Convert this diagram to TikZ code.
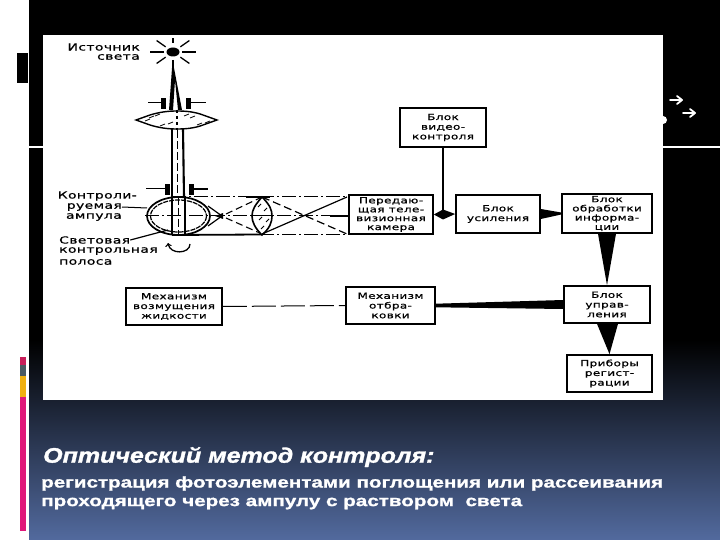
\documentclass[tikz,border=0pt]{standalone}
\usepackage{fontspec}
\usetikzlibrary{calc}
\newfontfamily\labfont[FakeStretch=1.42,LetterSpace=4,FakeBold=0.7]{DejaVu Sans}
\newfontfamily\capfont[FakeStretch=1.33,FakeBold=1.2]{Liberation Sans}
\newfontfamily\titlefont[FakeStretch=1.19,FakeBold=1.5]{Liberation Sans}
\definecolor{slateb}{HTML}{526A9E}
\definecolor{barpink}{HTML}{E0187A}
\definecolor{barred}{HTML}{C81E5A}
\definecolor{bargrey}{HTML}{4A5A62}
\definecolor{baryel}{HTML}{F0B010}
\tikzset{
 blockbox/.style={draw=black,line width=1.7pt,fill=white,inner sep=0pt,align=center,font=\labfont\fontsize{8.5}{9.7}\selectfont},
 lbl/.style={inner sep=0pt,font=\labfont\fontsize{9.8}{10.3}\selectfont,text=black},
 wedge/.style={fill=black,draw=none},
 beam/.style={line width=1.6pt,black},
 axisdash/.style={line width=1pt,dash pattern=on 14pt off 3pt on 2pt off 3pt},
 stopbar/.style={fill=black,draw=none},
 capt/.style={inner sep=0pt,anchor=west,text=white},
 chev/.style={white,line width=1.8pt,line cap=round,line join=round}
}
\begin{document}
\begin{tikzpicture}[x=1pt,y=-1pt]
\useasboundingbox (0,0) rectangle (720,540);
% slide background
\fill[white] (0,0) rectangle (29,540);
\fill[black] (29,0) rectangle (720,341);
\shade[top color=black,bottom color=slateb,shading angle=0] (29,340) rectangle (720,540);
\fill[black] (17,53) rectangle (28,83);
\fill[barred] (20,357) rectangle (26,365);
\fill[bargrey] (20,365) rectangle (26,376);
\fill[baryel] (20,376) rectangle (26,397);
\fill[barpink] (20,397) rectangle (26,531);
\fill[white] (29,146) rectangle (720,148);
\fill[white] (663,120) circle (4);
\draw[chev] (670,100) -- (682,100) (677,96) -- (682,100) -- (677,104);
\draw[chev] (683,113) -- (695,113) (690,109) -- (695,113) -- (690,117);
% picture
\fill[white] (43,35) rectangle (663,400);
% light source
\fill[black] (173,52) ellipse (6.5 and 4.5);
\foreach \a/\r in {0/23,180/23,90/14,270/14,35/20,145/20,215/20,325/20}
  \draw[line width=1.3pt] ($(173,52)+(\a:9)$) -- ($(173,52)+(\a:\r)$);
\fill[black] (172,68) -- (174,68) -- (182,110) -- (178,110) -- (175,80) -- (173,110) -- (169,110) -- cycle;
\draw[line width=1.3pt] (173,60) -- (173,72);
% first stops
\fill[stopbar] (161,98) rectangle (166,109);
\fill[stopbar] (186,98) rectangle (191,109);
\draw[line width=1pt] (148,103) -- (161,103);
\draw[line width=1pt] (191,103) -- (206,103);
% condenser lens
\draw[line width=1.4pt,fill=white] (136,120) -- (150,115) .. controls (160,112) and (168,111) .. (177,111) .. controls (187,111) and (195,112) .. (203,115) -- (217,120) -- (203,125) .. controls (195,128) and (187,129) .. (177,129) .. controls (168,129) and (160,128) .. (150,125) -- cycle;
\foreach \x/\y in {145/121,149/118,155/116,160/126,168/124,184/116,190/118,197/125,205/123}
  \draw[line width=.8pt] (\x,\y) -- ++(5,-2);
\draw[line width=1.1pt,dashed] (177,110) -- (177,130);
% beam to ampoule
\draw[beam,line width=1.7pt] (172,129) -- (172,197);
\draw[beam,line width=2.1pt] (183,129) -- (184,197);
\draw[line width=.9pt,dash pattern=on 8pt off 3pt] (177,130) -- (177,197);
% second stops
\fill[stopbar] (165,184) rectangle (169.5,195);
\fill[stopbar] (189,184) rectangle (193.5,195);
\draw[line width=1pt] (146,189) -- (165,189);
\draw[line width=1.5pt] (193,189) -- (208,189);
% ampoule
\draw[line width=1.7pt] (178.5,216) ellipse (31.5 and 19);
\draw[line width=1.2pt,dash pattern=on 5pt off 1pt] (178.5,216) ellipse (28 and 16);
\draw[line width=1.7pt] (172,197) -- (172,235);
\draw[line width=1.7pt] (185,197) -- (185,235);
\draw[line width=.9pt,dash pattern=on 8pt off 3pt] (178,197) -- (178,235);
% curved arrow
\draw[line width=1.3pt,-{>[scale=.8]}] (190,244) .. controls (190,254) and (170,255) .. (168,243);
% optical axes
\coordinate (camL) at (349,216);
\draw[axisdash] (172,197) -- (349,197);
\draw[axisdash] (145,216) -- (camL);
\draw[axisdash] (172,234) -- (349,234);
\draw[line width=1.8pt] (172,235) -- (262,234.5);
\draw[line width=2pt] (246,197) -- (270,197);
% cone
\draw[line width=1.2pt] (208,206) -- (222,216) -- (208,226);
\fill[black] (215,216) -- (223,213) -- (223,219) -- cycle;
\draw[line width=1.1pt,dash pattern=on 7pt off 4pt] (226,214) -- (262,197);
\draw[line width=1.1pt,dash pattern=on 7pt off 4pt] (226,218) -- (262,234);
% objective lens
\draw[line width=1.6pt,fill=white] (262,197) .. controls (270,205) and (272,210) .. (272,216) .. controls (272,222) and (270,228) .. (262,235) .. controls (255,228) and (252,222) .. (252,216) .. controls (252,210) and (255,205) .. (262,197) -- cycle;
\foreach \x/\y in {258/207,264/211,259/220,266/222,261/229}
  \draw[line width=.8pt] (\x,\y) -- ++(3,-3);
\draw[line width=1pt] (252,216) -- (272,216);
% crossing rays
\draw[line width=1.2pt] (262,234) -- (347,197);
\draw[line width=1.2pt,dash pattern=on 8pt off 4pt] (262,197) -- (347,234);
\draw[line width=2pt] (330,216) -- (349,216);
% blocks
\node[blockbox,minimum width=86pt,minimum height=39pt] (video) at (443,127.5) {Блок\\видео-\\контроля};
\node[blockbox,minimum width=84pt,minimum height=39pt,font=\labfont\fontsize{8.5}{8.9}\selectfont] (camera) at (391,214.5) {Передаю-\\щая теле-\\визионная\\камера};
\node[blockbox,minimum width=84pt,minimum height=38pt] (amp) at (498,214) {Блок\\усиления};
\node[blockbox,minimum width=90pt,minimum height=39pt,font=\labfont\fontsize{8.5}{9.2}\selectfont] (proc) at (607,213.5) {Блок\\обработки\\информа-\\ции};
\node[blockbox,minimum width=96pt,minimum height=37pt] (stir) at (174,306.5) {Механизм\\возмущения\\жидкости};
\node[blockbox,minimum width=89pt,minimum height=37pt] (reject) at (390.5,305.5) {Механизм\\отбра-\\ковки};
\node[blockbox,minimum width=86pt,minimum height=37pt] (ctrl) at (607,304.5) {Блок\\управ-\\ления};
\node[blockbox,minimum width=85pt,minimum height=37pt] (reg) at (609.5,373.5) {Приборы\\регист-\\рации};
% connectors
\draw[line width=1.9pt] (video.south) -- (video.south |- camera.east);
\fill[wedge] (camera.east) -- ($(video.south |- camera.east)+(0,-5)$) -- (amp.west) -- ($(video.south |- camera.east)+(0,5)$) -- cycle;
\fill[wedge] ($(amp.east)+(0,-5)$) -- ($(proc.west)+(0,-1)$) -- ($(proc.west)+(0,1)$) -- ($(amp.east)+(0,5)$) -- cycle;
\fill[wedge] ($(proc.south)+(-9,0)$) -- ($(proc.south)+(9,0)$) -- (ctrl.north) -- cycle;
\fill[wedge] ($(ctrl.south)+(-10,0)$) -- ($(ctrl.south)+(11,0)$) -- (reg.north) -- cycle;
\fill[wedge] ($(ctrl.west)+(0,-4.5)$) -- ($(ctrl.west)+(0,4.5)$) -- ($(reject.east)+(0,1.8)$) -- ($(reject.east)+(0,-1.8)$) -- cycle;
\draw[line width=1pt,dash pattern=on 24pt off 5pt] (stir.east) -- (reject.west);
% labels
\node[lbl,anchor=east] (src1) at (140,47) {Источник};
\node[lbl,anchor=east] (src2) at (140,57) {света};
\node[lbl,anchor=east] (amp1) at (137,196) {Контроли-};
\node[lbl,anchor=east] (amp2) at (122,207) {руемая};
\node[lbl,anchor=east] (amp3) at (122,217) {ампула};
\node[lbl,anchor=west] (bar1) at (59,240) {Световая};
\node[lbl,anchor=west] (bar2) at (59,251) {контрольная};
\node[lbl,anchor=west] (bar3) at (59,262) {полоса};
\coordinate (ampEdge) at (147,208);
\coordinate (barEnd) at (168,230);
\draw[line width=1pt] (amp2.east) -- (ampEdge);
\draw[line width=1.2pt] (bar1.east) -- (barEnd);
% caption
\node[capt,font=\titlefont\bfseries\itshape\fontsize{21}{24}\selectfont] (title) at (43,457) {Оптический метод контроля:};
\node[capt,font=\capfont\bfseries\fontsize{15.5}{18}\selectfont] (line1) at (41,483.5) {регистрация фотоэлементами поглощения или рассеивания};
\node[capt,font=\capfont\bfseries\fontsize{15.5}{18}\selectfont] (line2) at (41,503.5) {проходящего через ампулу с раствором\ \ света};
\end{tikzpicture}
\end{document}
